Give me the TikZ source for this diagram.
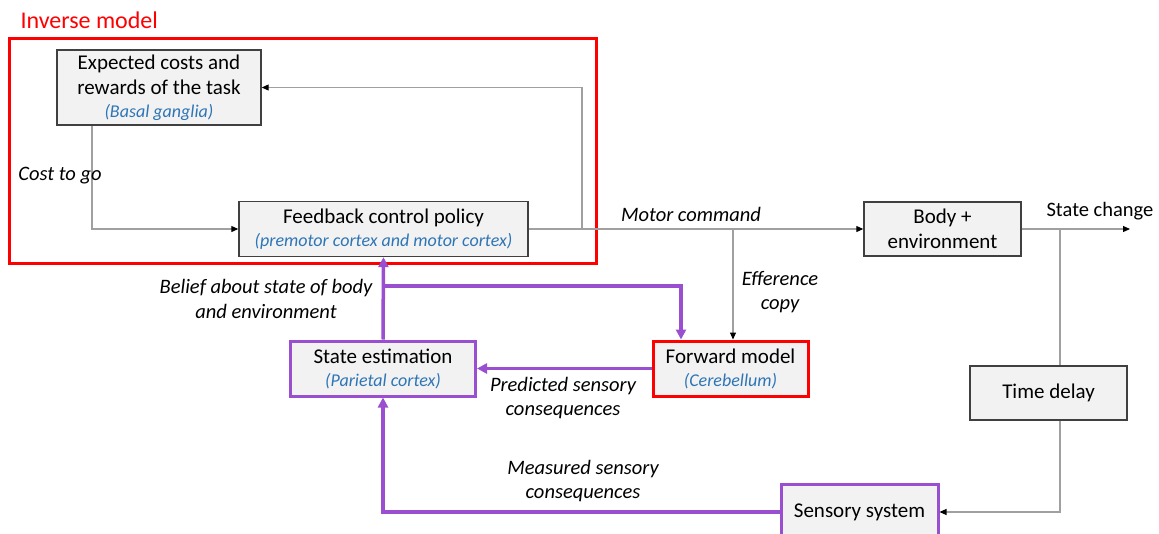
\documentclass[tikz,border=0pt]{standalone}
\usepackage{fontspec}
\setmainfont{Carlito}
\usetikzlibrary{arrows.meta}

\definecolor{boxfill}{HTML}{F2F2F2}
\definecolor{lineg}{HTML}{A0A0A0}
\definecolor{purp}{HTML}{9A4FD0}
\definecolor{bluet}{HTML}{2E75B6}
\definecolor{redm}{HTML}{FF0000}

\newcommand{\brain}[1]{\\[-2pt]{\fontsize{18}{22}\selectfont\itshape\color{bluet}#1}}

\begin{document}
\begin{tikzpicture}[x=1pt,y=-1pt,>={Triangle[length=7pt,width=6pt]}]
	\tikzstyle{blk} = [draw=black!75,fill=boxfill,line width=1.4pt,align=center,inner sep=0pt,font=\fontsize{21}{25}\selectfont];
	\tikzstyle{lbl} = [align=center,font=\fontsize{20.5}{24.5}\selectfont\itshape];
	\tikzstyle{gline} = [draw=lineg,line width=1.1pt,-{Triangle[black,length=7pt,width=6pt]}];
	\tikzstyle{pline} = [draw=purp,line width=3.5pt,-{Triangle[length=10pt,width=10pt]}];
	\useasboundingbox (0,0) rectangle (1159,533);
	% inverse model frame
	\draw[redm,line width=3pt] (9,38) rectangle (596,263);
	\node[anchor=west,text=redm,font=\fontsize{24}{28}\selectfont] (inv) at (17,20) {Inverse model};
	% boxes
	\node[blk,minimum width=204pt,minimum height=75pt] (exp) at (159,87.5) {Expected costs and\\rewards of the task\brain{(Basal ganglia)}};
	\node[blk,minimum width=289pt,minimum height=55pt] (fb) at (383.5,229) {Feedback control policy\brain{(premotor cortex and motor cortex)}};
	\node[blk,minimum width=157pt,minimum height=54pt] (body) at (942.5,229) {Body +\\environment};
	\node[blk,minimum width=157pt,minimum height=54pt] (delay) at (1048.5,393) {Time delay};
	\node[blk,draw=purp,line width=3pt,minimum width=157pt,minimum height=55pt] (sens) at (859.5,512) {Sensory system};
	\node[blk,draw=purp,line width=3pt,minimum width=185pt,minimum height=55pt] (est) at (383,368.5) {State estimation\brain{(Parietal cortex)}};
	\node[blk,draw=redm,line width=3pt,minimum width=155pt,minimum height=55pt] (fwd) at (730.5,368.5) {Forward model\brain{(Cerebellum)}};
	% branch points
	\coordinate (br1) at (582,229);
	\coordinate (br3) at (733,229);
	\coordinate (br2) at (1060,229);
	\coordinate (out) at (1130,229);
	\coordinate (br4) at (383,286);
	% thin connectors
	\draw[gline] ([xshift=-67pt]exp.south) |- (fb.west);
	\draw[gline] (fb.east) -- (body.west);
	\draw[gline] (br1) |- (exp.east);
	\draw[gline] (br3) -- (br3 |- fwd.north);
	\draw[gline] (body.east) -- (out);
	\draw[gline,-] (br2) -- (br2 |- delay.north);
	\draw[gline] (br2 |- delay.south) |- (sens.east);
	% purple connectors
	\draw[pline] (sens.west) -| (est.south);
	\draw[pline] (est.north) -- (fb.south);
	\draw[pline] (br4) -| ([xshift=-49.5pt]fwd.north);
	\draw[pline] (fwd.west) -- (est.east);
	% labels
	\node[lbl] (cost) at (60,176) {Cost to go};
	\node[lbl] (motor) at (691,214) {Motor command};
	\node[lbl,font=\fontsize{20.5}{24}\selectfont] (state) at (1100,211) {State change};
	\node[lbl] (eff) at (780,292) {Efference\\copy};
	\node[lbl] (belief) at (266,299) {Belief about state of body\\and environment};
	\node[lbl] (pred) at (563,398) {Predicted sensory\\consequences};
	\node[lbl] (meas) at (583,481) {Measured sensory\\consequences};
\end{tikzpicture}
\end{document}
